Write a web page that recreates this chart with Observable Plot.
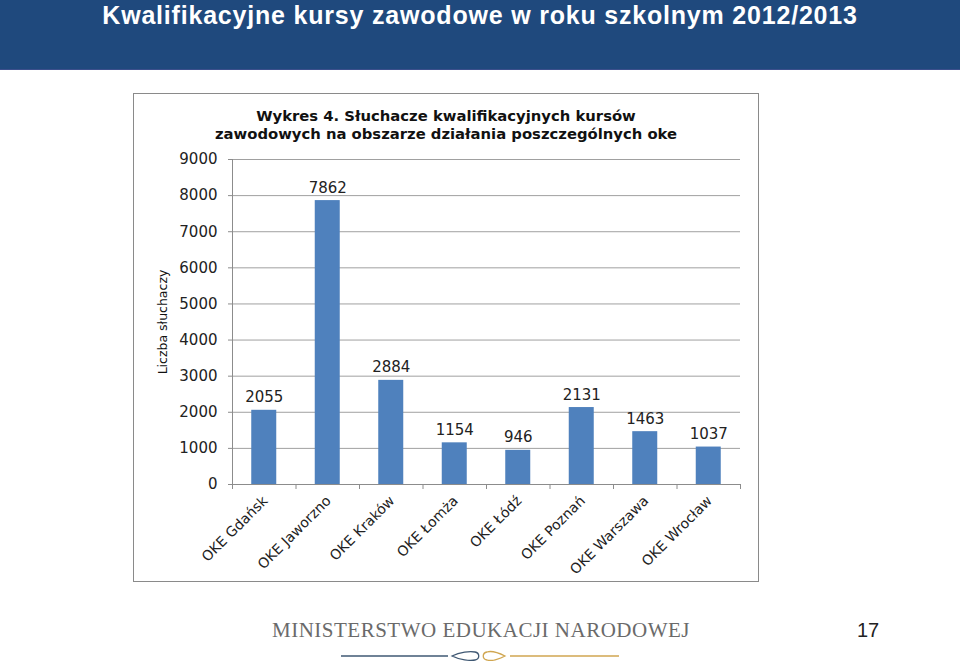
<!DOCTYPE html>
<html><head><meta charset="utf-8">
<script src="https://cdn.jsdelivr.net/npm/d3@7"></script>
<script src="https://cdn.jsdelivr.net/npm/@observablehq/plot@0.6"></script>
<style>
html,body{margin:0;padding:0;background:#fff;width:960px;height:661px;overflow:hidden;position:relative;}
#hdr{position:absolute;left:0;top:0;width:960px;height:69px;background:#1F497D;border-bottom:1px solid #3b4f8c;}
#hdr h1{margin:0;position:absolute;left:0;width:960px;top:1px;line-height:28px;text-align:center;font:bold 25px "Liberation Sans",Arial,sans-serif;color:#fff;letter-spacing:0.8px;white-space:nowrap;}
#box{position:absolute;left:133px;top:93px;width:624px;height:487px;border:1px solid #8a8a8a;}
#ctitle{position:absolute;left:0;top:13px;width:624px;text-align:center;font:bold 14.8px "DejaVu Sans",sans-serif;line-height:17.5px;color:#111;}
#chart{position:absolute;left:0;top:0;}
#ministry{position:absolute;left:272px;top:618px;font:21px "Liberation Serif",serif;color:#6a6a6a;letter-spacing:0.5px;white-space:nowrap;}
#page{position:absolute;left:857px;top:619px;font:20px "Liberation Sans",Arial,sans-serif;color:#222;}
#deco{position:absolute;left:0;top:645px;}
</style></head>
<body>
<div id="hdr"><h1>Kwalifikacyjne kursy zawodowe w roku szkolnym 2012/2013</h1></div>
<div id="box">
  <div id="chart"></div>
  <div id="ctitle">Wykres 4. Słuchacze kwalifikacyjnych kursów<br>zawodowych na obszarze działania poszczególnych oke</div>
</div>
<div id="ministry">MINISTERSTWO EDUKACJI NARODOWEJ</div>
<svg id="deco" width="960" height="20">
  <line x1="341" y1="11" x2="448" y2="11" stroke="#3f5873" stroke-width="1.3"/>
  <path d="M452,11 C460,7 470,6 475,7 C480,8 480,14 475,15 C470,16 460,15 452,11 Z" fill="none" stroke="#3f5873" stroke-width="1.3"/>
  <path d="M505,11 C497,7 490,6 487,7 C482,8 482,14 487,15 C490,16 497,15 505,11 Z" fill="none" stroke="#d0a650" stroke-width="1.3"/>
  <line x1="510" y1="11" x2="619" y2="11" stroke="#d0a650" stroke-width="1.3"/>
</svg>
<div id="page">17</div>
<script>
const categories = ["OKE Gdańsk","OKE Jaworzno","OKE Kraków","OKE Łomża","OKE Łódź","OKE Poznań","OKE Warszawa","OKE Wrocław"];
const values = [2055, 7862, 2884, 1154, 946, 2131, 1463, 1037];
const yTicks = [0, 1000, 2000, 3000, 4000, 5000, 6000, 7000, 8000, 9000];
const yLabel = "Liczba słuchaczy";

const data = categories.map((c, i) => ({i, c, v: values[i]}));
const bounds = d3.range(categories.length + 1);
const axisGray = "#8c8c8c";

const chart = Plot.plot({
  width: 624, height: 487,
  marginLeft: 98, marginRight: 18, marginTop: 65, marginBottom: 97,
  x: {domain: [0, categories.length], axis: null},
  y: {domain: [0, 9000], axis: null},
  style: {fontFamily: "'DejaVu Sans', sans-serif", fontSize: "15px", color: "#222", background: "transparent"},
  marks: [
    Plot.gridY(yTicks, {stroke: "#a0a0a0", strokeOpacity: 1}),
    Plot.rectY(data, {x1: d => d.i, x2: d => d.i + 1, y: "v", insetLeft: 19.25, insetRight: 19.25, fill: "#4F81BD"}),
    Plot.axisY(yTicks, {tickSize: 4, tickPadding: 11, stroke: axisGray, fill: "#222", tickFormat: d => String(d), label: null}),
    Plot.axisY({label: yLabel, labelAnchor: "center", labelArrow: "none", labelOffset: 74, ticks: [], fontSize: 12.5, fill: "#111"}),
    Plot.ruleX([0], {stroke: axisGray}),
    Plot.axisX(bounds, {tickSize: 5, stroke: axisGray, tickFormat: () => "", label: null}),
    Plot.ruleY([0], {stroke: axisGray}),
    Plot.text(data, {x: d => d.i + 0.5, y: "v", text: d => String(d.v), lineAnchor: "bottom", dy: -8, fill: "#222"}),
    Plot.text(data, {x: d => d.i + 0.5, frameAnchor: "bottom", text: "c", rotate: -45, textAnchor: "end", lineAnchor: "middle", dx: 1, dy: 14, fontSize: 14, fill: "#222"})
  ]
});
document.getElementById("chart").appendChild(chart);
</script>
</body></html>
